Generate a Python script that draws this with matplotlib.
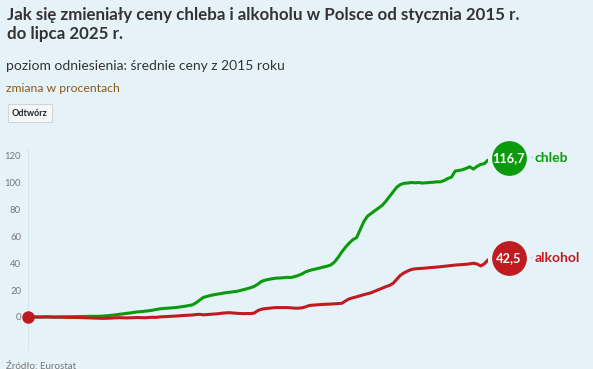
import matplotlib
matplotlib.use('Agg')
import matplotlib.pyplot as plt
import matplotlib.transforms as mtransforms
import numpy as np

# months since Jan 2015 (0) to Jul 2025 (126); % change vs 2015 average
chleb = [
    0.0, 0.1, 0.0, -0.1, 0.0, 0.1, 0.0, -0.1, 0.0, 0.1,
    0.1, 0.2, 0.2, 0.3, 0.3, 0.4, 0.4, 0.5, 0.5, 0.5,
    0.6, 0.8, 1.0, 1.3, 1.6, 2.0, 2.3, 2.7, 3.0, 3.4,
    3.8, 4.0, 4.3, 4.6, 5.0, 5.5, 6.0, 6.3, 6.5, 6.7,
    6.9, 7.2, 7.6, 8.0, 8.5, 9.0, 10.5, 12.5, 14.5, 15.3,
    16.0, 16.6, 17.0, 17.5, 18.0, 18.3, 18.7, 19.0, 19.6, 20.3,
    21.0, 21.8, 22.8, 24.5, 26.5, 27.4, 28.0, 28.5, 28.9, 29.0,
    29.2, 29.5, 29.3, 30.0, 30.8, 32.0, 33.5, 34.5, 35.2, 35.8,
    36.5, 37.2, 37.8, 38.8, 41.0, 44.5, 48.5, 52.0, 55.0, 57.5,
    59.0, 65.0, 71.0, 75.0, 77.0, 79.0, 81.0, 83.0, 86.0, 89.5,
    93.0, 96.5, 98.5, 99.4, 99.6, 100.0, 99.8, 100.0, 99.6, 99.8,
    100.0, 100.2, 100.5, 100.5, 101.5, 103.0, 104.0, 108.5, 109.0, 109.5,
    110.5, 111.7, 110.0, 112.0, 113.5, 114.0, 116.7]
alkohol = [
    0.0, 0.0, 0.0, 0.0, 0.0, 0.0, 0.0, -0.1, -0.1, -0.2,
    -0.2, -0.3, -0.3, -0.4, -0.4, -0.5, -0.6, -0.7, -0.8, -0.9,
    -1.0, -1.0, -0.9, -0.8, -0.6, -0.5, -0.6, -0.7, -0.6, -0.5,
    -0.4, -0.5, -0.6, -0.4, -0.2, -0.3, 0.0, 0.2, 0.3, 0.5,
    0.6, 0.8, 1.0, 1.2, 1.3, 1.5, 1.8, 2.0, 1.6, 1.8,
    2.0, 2.2, 2.4, 2.8, 3.0, 3.2, 3.0, 2.8, 2.6, 2.5,
    2.6, 2.5, 3.0, 4.8, 5.8, 6.2, 6.5, 6.8, 7.0, 7.0,
    7.0, 7.0, 6.8, 6.6, 6.5, 6.8, 7.5, 8.5, 8.8, 9.0,
    9.2, 9.4, 9.5, 9.6, 9.8, 10.0, 10.2, 12.0, 13.5, 14.3,
    15.0, 15.8, 16.6, 17.3, 18.0, 19.2, 20.3, 21.4, 22.5, 23.5,
    25.0, 28.0, 31.0, 32.8, 34.2, 35.3, 35.8, 36.0, 36.2, 36.4,
    36.7, 36.9, 37.1, 37.4, 37.7, 38.0, 38.3, 38.6, 38.8, 39.0,
    39.2, 39.5, 40.0, 39.4, 38.0, 39.5, 42.5]
yticks = [0, 20, 40, 60, 80, 100, 120]

bg = '#e5f3f9'
green = '#0b9a0b'
red = '#c01b20'
plt.rcParams['font.family'] = ['Lato', 'DejaVu Sans']

W, H = 593, 369
fig = plt.figure(figsize=(W / 100, H / 100), dpi=100, facecolor=bg)

fig.text(7 / W, 1 - 7 / H, 'Jak się zmieniały ceny chleba i alkoholu w Polsce od stycznia 2015 r.\ndo lipca 2025 r.',
         fontsize=12.2, fontweight='bold', color='#333333', va='top', ha='left', linespacing=1.22)
fig.text(6 / W, 1 - 66 / H, 'poziom odniesienia: średnie ceny z 2015 roku',
         fontsize=10, color='#333333', va='center', ha='left')
fig.text(6 / W, 1 - 88 / H, 'zmiana w procentach',
         fontsize=8.8, color='#8a5a19', va='center', ha='left')
fig.text(12 / W, 1 - 113 / H, 'Odtwórz', fontsize=6.5, fontweight='bold', color='#222222',
         va='center', ha='left',
         bbox=dict(boxstyle='square,pad=0.45', facecolor='#f4f8fa', edgecolor='#cfd6da', lw=0.8))
fig.text(6 / W, 1 - 362 / H, 'Źródło: Eurostat', fontsize=7, color='#777777', va='top', ha='left')

ax = fig.add_axes([28 / W, (H - 350.6) / H, 460 / W, 201.7 / H])
ax.set_facecolor(bg)
for s in ax.spines.values():
    s.set_visible(False)

x = np.arange(len(chleb))
ax.plot(x, chleb, color=green, lw=2.2, solid_capstyle='round', zorder=3)
ax.plot(x, alkohol, color=red, lw=2.2, solid_capstyle='round', zorder=3)
ax.plot(x[0], alkohol[0], 'o', color=red, ms=8, zorder=4, clip_on=False)
ax.axvline(0, color='#d8e6ec', lw=0.8, zorder=1)

ax.set_xlim(0, len(chleb) - 1)
ax.set_ylim(-25, 125)
ax.set_yticks(yticks)
ax.set_yticklabels([str(v) for v in yticks], fontsize=6.8, color='#777777')
ax.tick_params(axis='y', length=0, pad=5)
ax.set_xticks([])

dx, dy = 15.1, 1.5  # circle offset from last point, in points
for vals, col, name in [(chleb, green, 'chleb'), (alkohol, red, 'alkohol')]:
    last = vals[-1]
    shift = mtransforms.ScaledTranslation(dx / 72, dy / 72, fig.dpi_scale_trans)
    ax.plot(x[-1], last, marker='o', ms=24, color=col, zorder=5, clip_on=False,
            transform=ax.transData + shift)
    ax.annotate(f'{last:.1f}'.replace('.', ','), (x[-1], last), xytext=(dx, dy),
                textcoords='offset points', ha='center', va='center',
                fontsize=9.3, fontweight='bold', color='white', zorder=6,
                annotation_clip=False)
    ax.annotate('-', (x[-1], last), xytext=(31, dy), textcoords='offset points',
                ha='center', va='center', fontsize=7, color='#bbbbbb', annotation_clip=False)
    ax.annotate(name, (x[-1], last), xytext=(33.5, dy), textcoords='offset points',
                ha='left', va='center', fontsize=10, fontweight='bold', color=col,
                annotation_clip=False)

plt.savefig('out.png', dpi=100, facecolor=bg)
